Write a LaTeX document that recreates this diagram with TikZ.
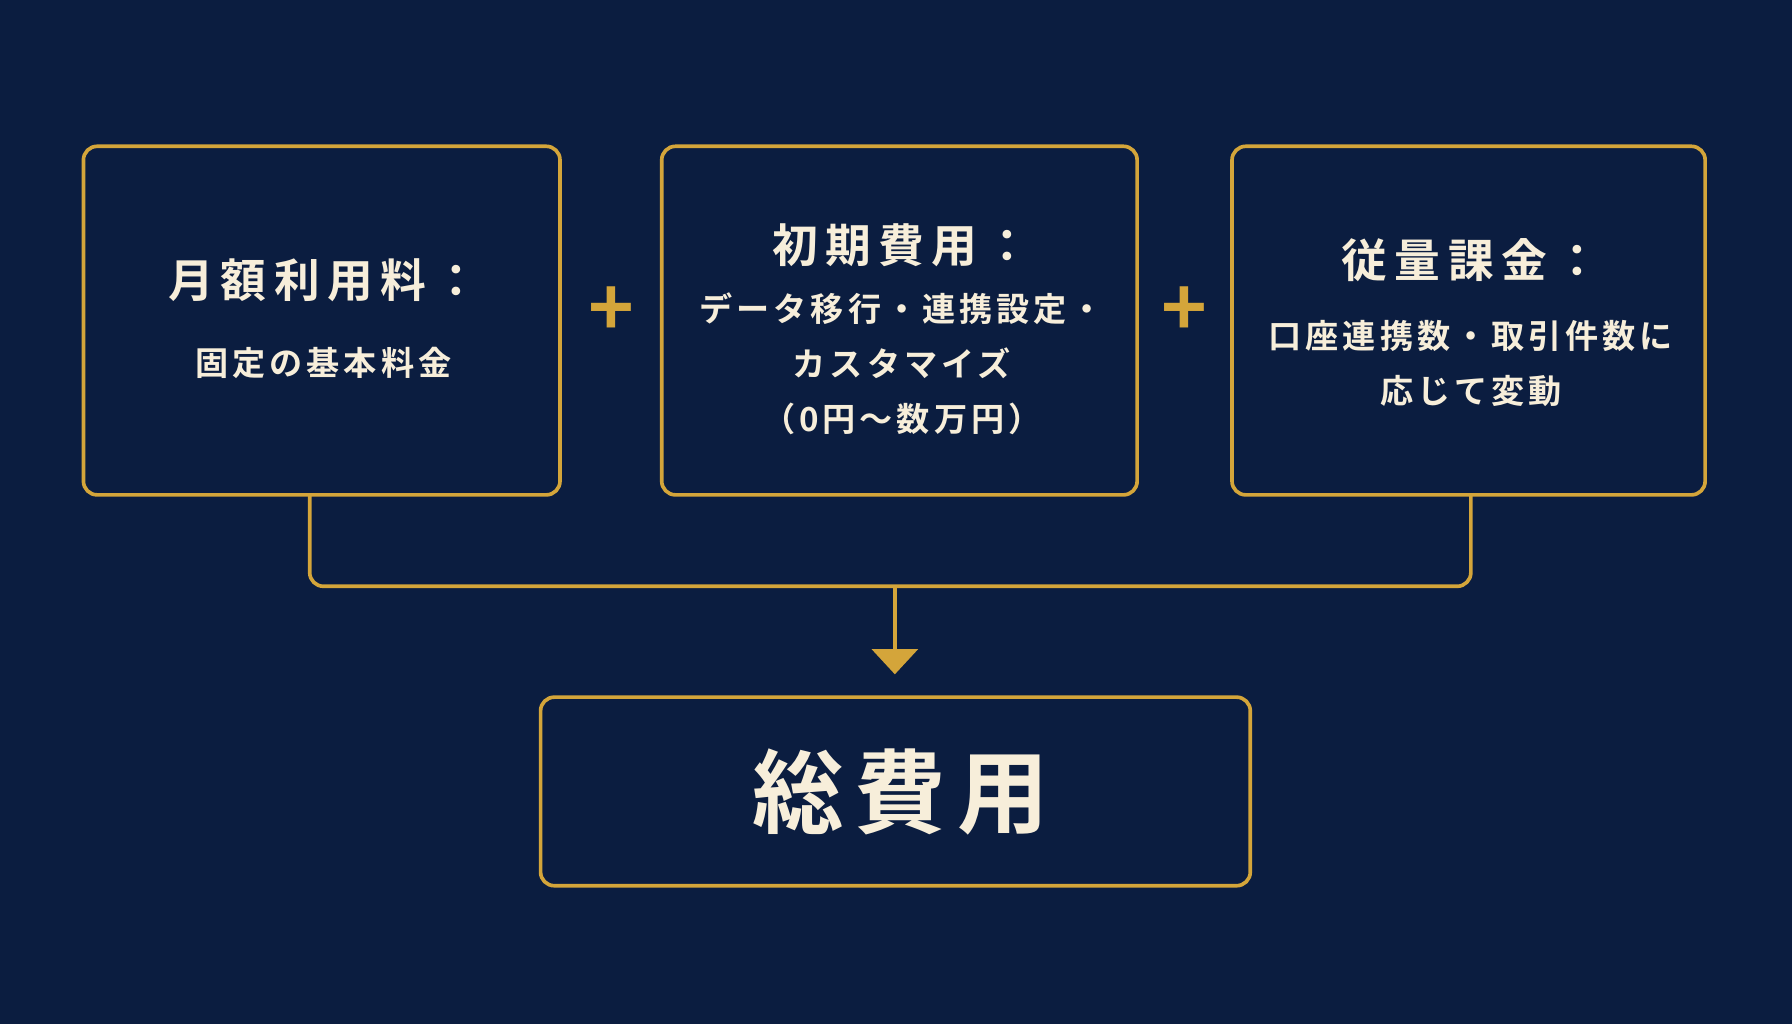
\documentclass[tikz,border=0pt]{standalone}
\usepackage{fontspec}
\setmainfont{Noto Sans CJK JP}[BoldFont={Noto Sans CJK JP Bold}]
\usetikzlibrary{arrows.meta}
\definecolor{bg}{HTML}{0B1D40}
\definecolor{gold}{HTML}{D4A53A}
\definecolor{cream}{HTML}{F7EEDA}
\begin{document}
\begin{tikzpicture}[x=0.5pt,y=-0.5pt,
  box/.style={draw=gold,line width=1.6pt,rounded corners=6pt},
  ttl/.style={text=cream,font=\bfseries\fontsize{20}{24}\selectfont\addfontfeatures{LetterSpace=16}},
  sub/.style={text=cream,font=\bfseries\fontsize{14.5}{24}\selectfont\addfontfeatures{LetterSpace=12},align=center},
  plus/.style={text=gold,font=\bfseries\fontsize{34}{34}\selectfont},
  conn/.style={draw=gold,line width=1.6pt,rounded corners=6pt}]
\fill[bg] (0,0) rectangle (1568,896);
\useasboundingbox (0,0) rectangle (1568,896);
\draw[box] (73,128) rectangle (490,433);
\draw[box] (579,128) rectangle (995,433);
\draw[box] (1078,128) rectangle (1492,433);
\draw[box] (473,610) rectangle (1094,775);
\coordinate (b1) at (271,433);
\coordinate (b3) at (1287,433);
\coordinate (m) at (783,513);
\coordinate (t) at (783,590);
\node[ttl] (t1) at (283,245) {月額利用料：};
\node[sub] (s1) at (283,318) {固定の基本料金};
\node[ttl] (t2) at (789,215) {初期費用：};
\node[sub] (s2) at (789,318) {データ移行・連携設定・\\カスタマイズ\\（0円～数万円）};
\node[ttl] (t3) at (1287,228) {従量課金：};
\node[sub] (s3) at (1287,318) {口座連携数・取引件数に\\応じて変動};
\node[plus] (p1) at (535,273) {+};
\node[plus] (p2) at (1036,273) {+};
\node[text=cream,font=\bfseries\fontsize{40}{44}\selectfont\addfontfeatures{LetterSpace=12}] (tot) at (788,693) {総費用};
\draw[conn] (b1) |- (1287,513) -- (b3);
\draw[draw=gold,line width=1.6pt,-{Triangle[length=11pt,width=20pt]}] (m) -- (t);
\end{tikzpicture}
\end{document}
